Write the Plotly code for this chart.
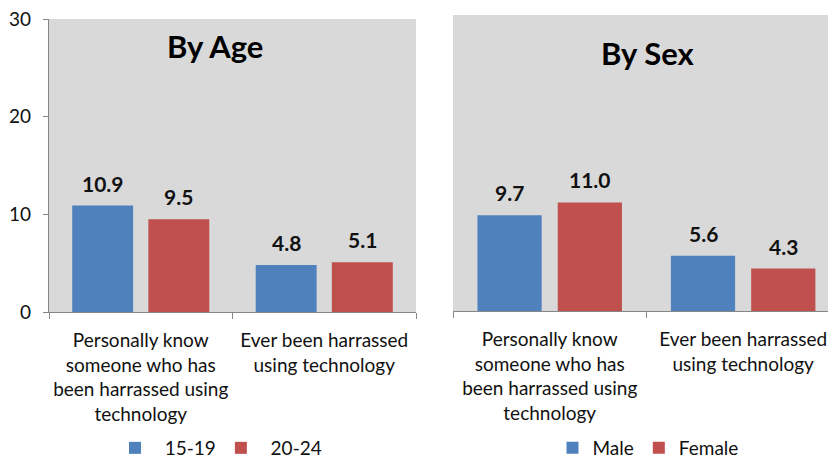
import plotly.graph_objects as go

categories = ["Personally know<br>someone who has<br>been harrassed using<br>technology",
              "Ever been harrassed<br>using technology"]
age_groups = ["15-19", "20-24"]
age_values = [[10.9, 4.8], [9.5, 5.1]]
sex_groups = ["Male", "Female"]
sex_values = [[9.7, 5.6], [11.0, 4.3]]
colors = ["#4F81BD", "#C0504D"]
panel_titles = ["By Age", "By Sex"]
y_ticks = [0, 10, 20, 30]

OFF = 8  # page body margin
W, H = 836 - OFF, 458 - OFF
FONT = "Lato"


def fx(px):
    return (px - OFF) / W


def fy(py):
    return 1 - (py - OFF) / H


fig = go.Figure()

for i, (name, vals) in enumerate(zip(age_groups, age_values)):
    fig.add_trace(go.Bar(x=categories, y=vals, name="  " + name, marker_color=colors[i],
                         marker_line_width=0, xaxis="x", yaxis="y", legend="legend",
                         offsetgroup=str(i)))
for i, (name, vals) in enumerate(zip(sex_groups, sex_values)):
    fig.add_trace(go.Bar(x=categories, y=vals, name=name, marker_color=colors[i],
                         marker_line_width=0, xaxis="x2", yaxis="y2", legend="legend2",
                         offsetgroup=str(i)))

annotations = []
for axn, vals_all, shift in (("", age_values, 38), ("2", sex_values, 40)):
    for i, vals in enumerate(vals_all):
        for c, v in zip(categories, vals):
            annotations.append(dict(x=c, y=v, xref="x" + axn, yref="y" + axn,
                                    text=f"<b>{v:.1f}</b>", showarrow=False,
                                    xshift=(-shift if i == 0 else shift), yshift=8,
                                    yanchor="bottom", font=dict(size=21, color="#111111", family=FONT)))
annotations.append(dict(text="<b>" + panel_titles[0] + "</b>", xref="x domain", yref="y domain",
                        x=0.452, y=0.908, xanchor="center", yanchor="middle", showarrow=False,
                        font=dict(size=31, color="black", family=FONT)))
annotations.append(dict(text="<b>" + panel_titles[1] + "</b>", xref="x2 domain", yref="y2 domain",
                        x=0.507, y=0.872, xanchor="center", yanchor="middle", showarrow=False,
                        font=dict(size=31, color="black", family=FONT)))

axis_common = dict(showgrid=False, zeroline=False, showline=True, linecolor="#868686",
                   linewidth=1.3, automargin=False)

fig.update_layout(
    width=W, height=H,
    margin=dict(l=0, r=0, t=0, b=0, autoexpand=False),
    paper_bgcolor="white",
    plot_bgcolor="#D9D9D9",
    font=dict(family=FONT, size=18, color="#111111"),
    barmode="group", bargap=0.17, bargroupgap=0.2,
    xaxis=dict(domain=[fx(49), fx(416)], anchor="y", tickson="boundaries", ticks="outside",
               ticklen=6, tickcolor="#868686", tickfont=dict(size=19), ticklabelstandoff=11,
               tickangle=0, ticklabeloverflow="allow", **axis_common),
    yaxis=dict(domain=[fy(312), fy(19)], anchor="x", range=[0, 30], tickvals=y_ticks,
               ticks="outside", ticklen=5, tickcolor="#868686", ticklabelstandoff=8,
               ticklabeloverflow="allow", tickfont=dict(size=19), **axis_common),
    xaxis2=dict(domain=[fx(453), 1], anchor="y2", range=[-0.5, 1.48], tickson="boundaries",
                ticks="outside", ticklen=6, tickcolor="#868686", tickfont=dict(size=19),
                ticklabelstandoff=11, tickangle=0, ticklabeloverflow="allow", **axis_common),
    yaxis2=dict(domain=[fy(311), fy(15)], anchor="x2", range=[0, 30], showticklabels=False,
                showgrid=False, zeroline=False, showline=False, automargin=False),
    legend=dict(orientation="h", xref="container", yref="container", x=fx(221), y=fy(448),
                xanchor="center", yanchor="middle",
                font=dict(size=19), bgcolor="rgba(0,0,0,0)", itemclick=False),
    legend2=dict(orientation="h", xref="container", yref="container", x=fx(648), y=fy(448),
                 xanchor="center", yanchor="middle",
                 font=dict(size=19), bgcolor="rgba(0,0,0,0)", itemclick=False, itemwidth=30),
    annotations=annotations,
)

fig.write_html("out.html")
